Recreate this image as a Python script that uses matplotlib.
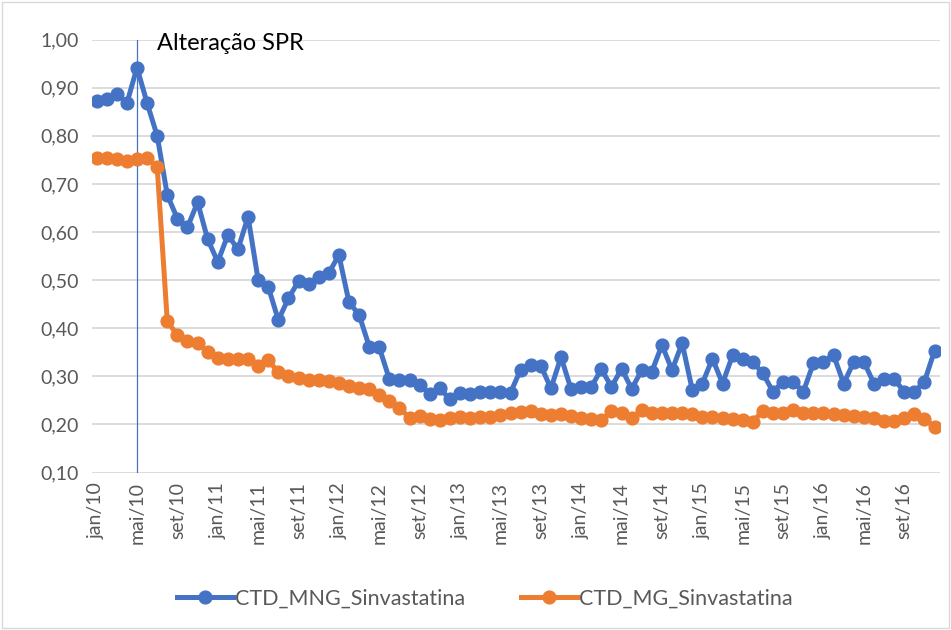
import matplotlib
matplotlib.use("Agg")
import matplotlib.pyplot as plt
from matplotlib.ticker import FuncFormatter, FixedLocator
from matplotlib.patches import Rectangle

months = ["jan", "fev", "mar", "abr", "mai", "jun", "jul", "ago", "set", "out", "nov", "dez"]
years = ["10", "11", "12", "13", "14", "15", "16"]
categories = [f"{m}/{y}" for y in years for m in months]

mng = [0.873, 0.876, 0.888, 0.868, 0.942, 0.868, 0.800, 0.677, 0.628, 0.610,
       0.662, 0.585, 0.538, 0.594, 0.564, 0.632, 0.500, 0.486, 0.417, 0.462,
       0.498, 0.493, 0.506, 0.515, 0.552, 0.454, 0.428, 0.362, 0.360, 0.294,
       0.293, 0.292, 0.282, 0.264, 0.275, 0.252, 0.265, 0.263, 0.268, 0.268,
       0.267, 0.266, 0.314, 0.323, 0.322, 0.275, 0.340, 0.273, 0.278, 0.278,
       0.315, 0.278, 0.316, 0.274, 0.313, 0.310, 0.365, 0.313, 0.369, 0.272,
       0.285, 0.337, 0.285, 0.344, 0.337, 0.330, 0.306, 0.268, 0.289, 0.289,
       0.268, 0.327, 0.330, 0.344, 0.285, 0.330, 0.330, 0.285, 0.294, 0.294,
       0.268, 0.268, 0.289, 0.353]

mg = [0.755, 0.755, 0.752, 0.748, 0.752, 0.754, 0.735, 0.414, 0.386, 0.374,
      0.369, 0.351, 0.338, 0.336, 0.336, 0.335, 0.322, 0.334, 0.308, 0.300,
      0.296, 0.293, 0.292, 0.290, 0.287, 0.280, 0.276, 0.273, 0.262, 0.249,
      0.235, 0.213, 0.218, 0.211, 0.209, 0.213, 0.215, 0.213, 0.215, 0.216,
      0.220, 0.223, 0.226, 0.228, 0.222, 0.220, 0.222, 0.218, 0.214, 0.211,
      0.209, 0.228, 0.223, 0.213, 0.230, 0.223, 0.223, 0.223, 0.223, 0.221,
      0.216, 0.216, 0.213, 0.211, 0.209, 0.206, 0.228, 0.223, 0.223, 0.230,
      0.223, 0.223, 0.223, 0.221, 0.220, 0.218, 0.216, 0.214, 0.207, 0.207,
      0.213, 0.221, 0.211, 0.195]

series_names = ["CTD_MNG_Sinvastatina", "CTD_MG_Sinvastatina"]
event_label = "Alteração SPR"
event_category = "mai/10"
y_ticks = [0.10, 0.20, 0.30, 0.40, 0.50, 0.60, 0.70, 0.80, 0.90, 1.00]

plt.rcParams['font.family'] = ['Lato', 'DejaVu Sans']

fig = plt.figure(figsize=(9.51, 6.30), dpi=100)
ax = fig.add_axes([0.0963, 0.25, 0.8917, 0.687])

x = list(range(len(categories)))
blue = "#4472C4"
orange = "#ED7D31"
ax.plot(x, mng, color=blue, lw=3.6, marker="o", ms=9.2, label=series_names[0], zorder=3)
ax.plot(x, mg, color=orange, lw=3.6, marker="o", ms=9.2, label=series_names[1], zorder=3)

ev = categories.index(event_category)
ax.axvline(ev, color=blue, lw=0.9, zorder=2)
ax.text(ev + 2.0, 0.993, event_label, fontsize=17, color="black", va="center", ha="left")

ax.set_xlim(-0.5, len(categories) - 0.5)
ax.set_ylim(0.10, 1.00)
ax.yaxis.set_major_locator(FixedLocator(y_ticks))
ax.yaxis.set_major_formatter(FuncFormatter(lambda v, p: f"{v:.2f}".replace(".", ",")))
ax.set_xticks(x[::4])
ax.set_xticklabels(categories[::4], rotation=90)
ax.tick_params(axis="both", length=0, labelsize=14, colors="#595959")
ax.tick_params(axis="x", pad=7)
ax.tick_params(axis="y", pad=9)
ax.grid(axis="y", color="#d9d9d9", lw=1.3)
ax.set_axisbelow(True)
for s in ax.spines.values():
    s.set_visible(False)

fig.legend(loc="center", bbox_to_anchor=(0.51, 0.05), ncol=2, frameon=False,
           fontsize=15.5, handlelength=2.6, columnspacing=2.6, handletextpad=0.1,
           labelcolor="#595959")

fig.patches.append(Rectangle((0.002, 0.003), 0.996, 0.994, transform=fig.transFigure,
                             fill=False, edgecolor="#d9d9d9", lw=1))

fig.savefig("out.png", dpi=100)
